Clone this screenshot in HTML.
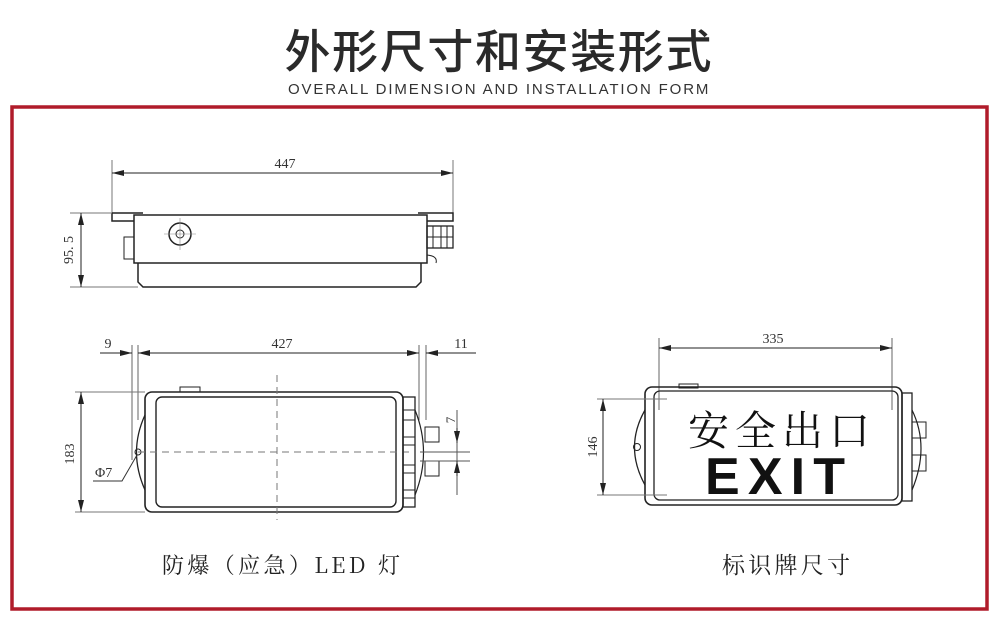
<!DOCTYPE html>
<html><head><meta charset="utf-8"><style>
html,body{margin:0;padding:0;background:#fff;width:1000px;height:628px;overflow:hidden}
svg{display:block}
</style></head><body>
<svg width="1000" height="628" viewBox="0 0 1000 628" xmlns="http://www.w3.org/2000/svg">
<defs>
<marker id="a" viewBox="0 0 12 6" refX="12" refY="3" markerWidth="12" markerHeight="6" orient="auto-start-reverse" markerUnits="userSpaceOnUse"><path d="M0,0 L12,3 L0,6 Z" fill="#222"/></marker>
</defs>
<text x="498" y="68" text-anchor="middle" font-family="'Noto Sans CJK SC',sans-serif" font-size="46" fill="#2a2a2a" font-weight="500" textLength="427">外形尺寸和安装形式</text>
<text x="499" y="94" text-anchor="middle" font-family="'Liberation Sans',sans-serif" font-size="15" fill="#333" letter-spacing="1.6" textLength="422">OVERALL DIMENSION AND INSTALLATION FORM</text>
<rect x="12" y="107" width="975" height="502" fill="none" stroke="#b01c2a" stroke-width="3.5"/>

<g stroke="#222" stroke-width="1" fill="none" font-family="'Liberation Serif',serif">
<!-- top view -->
<line x1="112" y1="160" x2="112" y2="213" stroke="#777"/>
<line x1="453" y1="160" x2="453" y2="213" stroke="#777"/>
<line x1="112" y1="173" x2="453" y2="173" marker-start="url(#a)" marker-end="url(#a)"/>
<text x="285" y="168" font-size="14" fill="#333" stroke="none" text-anchor="middle">447</text>
<path d="M112,213 H143 M418,213 H453 V221 H427 M112,213 V221 H134" stroke-width="1.5"/>
<rect x="134" y="215" width="293" height="48" stroke-width="1.5"/>
<path d="M138,263 V282 L143,287 H416 L421,282 V263" stroke-width="1.5"/>
<rect x="124" y="237" width="10" height="22"/>
<circle cx="180" cy="234" r="11" stroke-width="1.5"/><circle cx="180" cy="234" r="4"/>
<path d="M164,234 H196 M180,218 V250" stroke="#888" stroke-width=".6"/>
<rect x="427" y="226" width="26" height="22" stroke-width="1.3"/>
<path d="M433,226 V248 M441,226 V248 M447,226 V248 M427,237 H453"/>
<path d="M427,255 Q438,256 436,263"/>
<line x1="70" y1="213" x2="112" y2="213" stroke="#777"/>
<line x1="70" y1="287" x2="138" y2="287" stroke="#777"/>
<line x1="81" y1="213" x2="81" y2="287" marker-start="url(#a)" marker-end="url(#a)"/>
<text transform="translate(73,250) rotate(-90)" font-size="14" fill="#333" stroke="none" text-anchor="middle">95. 5</text>

<!-- front view -->
<path d="M132,345 V460 M138,345 V420 M419,345 V420 M426,345 V420" stroke="#666"/>
<line x1="100" y1="353" x2="132" y2="353" marker-end="url(#a)"/>
<line x1="138" y1="353" x2="419" y2="353" marker-start="url(#a)" marker-end="url(#a)"/>
<line x1="476" y1="353" x2="426" y2="353" marker-end="url(#a)"/>
<text x="108" y="348" font-size="14" fill="#333" stroke="none" text-anchor="middle">9</text>
<text x="282" y="348" font-size="14" fill="#333" stroke="none" text-anchor="middle">427</text>
<text x="461" y="348" font-size="14" fill="#333" stroke="none" text-anchor="middle">11</text>
<rect x="145" y="392" width="258" height="120" rx="7" stroke-width="1.6"/>
<rect x="156" y="397" width="240" height="110" rx="6" stroke-width="1.4"/>
<rect x="180" y="387" width="20" height="5"/>
<path d="M145,415 Q128,452 145,490" stroke-width="1.3"/>
<circle cx="138" cy="452" r="3"/>
<path d="M138,452 H410" stroke="#777" stroke-dasharray="7,5"/>
<path d="M277,375 V520" stroke="#777" stroke-dasharray="7,5"/>
<rect x="403" y="397" width="12" height="110" stroke-width="1.3"/>
<path d="M403,410 H415 M403,420 H415 M403,437 H415 M403,445 H415 M403,465 H415 M403,473 H415 M403,490 H415 M403,498 H415"/>
<path d="M415,410 Q432,452 415,495" stroke-width="1.2"/>
<rect x="425" y="427" width="14" height="15"/><rect x="425" y="461" width="14" height="15"/>
<path d="M420,452 H470 M420,461 H470 M457,410 V495" stroke="#555"/>
<line x1="457" y1="428" x2="457" y2="443" marker-end="url(#a)"/>
<line x1="457" y1="476" x2="457" y2="461" marker-end="url(#a)"/>
<text transform="translate(455,420) rotate(-90)" font-size="13" fill="#333" stroke="none" text-anchor="middle">7</text>
<line x1="75" y1="392" x2="145" y2="392" stroke="#777"/>
<line x1="75" y1="512" x2="145" y2="512" stroke="#777"/>
<line x1="81" y1="392" x2="81" y2="512" marker-start="url(#a)" marker-end="url(#a)"/>
<text transform="translate(74,454) rotate(-90)" font-size="14" fill="#333" stroke="none" text-anchor="middle">183</text>
<path d="M93,481 H122 L137,455" stroke="#333"/>
<text x="95" y="477" font-size="14" fill="#333" stroke="none">Φ7</text>

<!-- sign -->
<path d="M659,338 V410 M892,338 V410" stroke="#666"/>
<line x1="659" y1="348" x2="892" y2="348" marker-start="url(#a)" marker-end="url(#a)"/>
<text x="773" y="343" font-size="14" fill="#333" stroke="none" text-anchor="middle">335</text>
<rect x="645" y="387" width="257" height="118" rx="7" stroke-width="1.6"/>
<rect x="654" y="391" width="244" height="109" rx="6" stroke-width="1.3"/>
<rect x="679" y="384" width="19" height="4"/>
<path d="M645,410 Q624,447 645,485" stroke-width="1.3"/>
<circle cx="637" cy="447" r="3.5"/>
<rect x="902" y="393" width="10" height="108" stroke-width="1.3"/>
<path d="M912,410 Q930,447 912,490" stroke-width="1.2"/>
<rect x="912" y="422" width="14" height="16"/><rect x="912" y="455" width="14" height="16"/>
<line x1="597" y1="399" x2="667" y2="399" stroke="#777"/>
<line x1="597" y1="495" x2="667" y2="495" stroke="#777"/>
<line x1="603" y1="399" x2="603" y2="495" marker-start="url(#a)" marker-end="url(#a)"/>
<text transform="translate(597,447) rotate(-90)" font-size="14" fill="#333" stroke="none" text-anchor="middle">146</text>
</g>
<text x="688" y="445" font-family="'Noto Serif CJK SC',serif" font-size="41" fill="#111" textLength="182">安全出口</text>
<text x="705" y="494" font-family="'Liberation Sans',sans-serif" font-weight="bold" font-size="52" fill="#111" textLength="140">EXIT</text>

<text x="162" y="573" font-family="'Noto Serif CJK SC',serif" font-size="22" fill="#222" textLength="238">防爆（应急）LED 灯</text>
<text x="722" y="573" font-family="'Noto Serif CJK SC',serif" font-size="23" fill="#222" textLength="128">标识牌尺寸</text>
</svg>
</body></html>
